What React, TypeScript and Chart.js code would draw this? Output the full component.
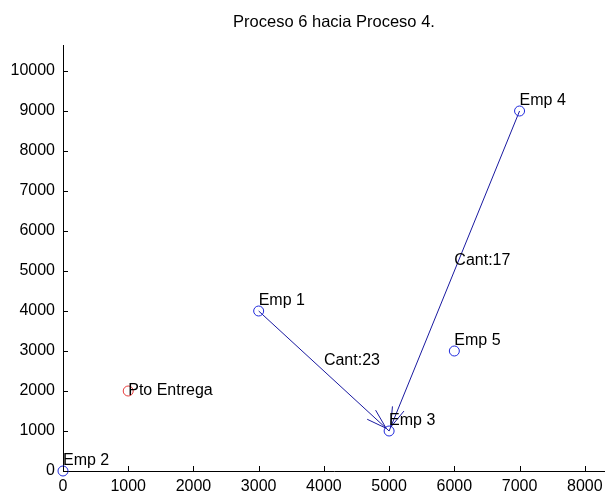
import React, { useEffect, useRef } from "react";
import { Chart, registerables } from "chart.js";

Chart.register(...registerables);

const TITLE = "Proceso 6 hacia Proceso 4.";
const empNames = ["Emp 1", "Emp 2", "Emp 3", "Emp 4", "Emp 5"];
const empX = [3000, 0, 5000, 7000, 6000];
const empY = [4000, 0, 1000, 9000, 3000];
const depotName = "Pto Entrega";
const depotX = [1000];
const depotY = [2000];
const routeFrom = [0, 3];
const routeTo = [2, 2];
const routeQty = [23, 17];
const xTicks = [0, 1000, 2000, 3000, 4000, 5000, 6000, 7000, 8000];
const yTicks = [0, 1000, 2000, 3000, 4000, 5000, 6000, 7000, 8000, 9000, 10000];
const X_MAX = 8310;
const Y_MAX = 10650;

const TICK_FONT = "'Liberation Sans', Arial, sans-serif";
const LABEL_FONT = "16px 'Liberation Sans', Arial, sans-serif";
const TITLE_FONT = "16.5px 'Liberation Sans', Arial, sans-serif";
const LINE_COLOR = "rgb(25,25,160)";
const MARKER_COLOR = "rgb(30,40,220)";
const DEPOT_COLOR = "rgb(230,60,60)";

const zeroPad = () => ({ left: 0, right: 0, top: 0, bottom: 0 });

const overlay = {
  id: "overlay",
  afterDatasetsDraw(chart: any) {
    const ctx = chart.ctx;
    const xs = chart.scales.x;
    const ys = chart.scales.y;
    const area = chart.chartArea;
    ctx.save();
    // inward ticks
    ctx.strokeStyle = "#000";
    ctx.lineWidth = 1;
    ctx.beginPath();
    xTicks.forEach((v) => {
      const px = Math.round(xs.getPixelForValue(v)) + 0.5;
      ctx.moveTo(px, area.bottom);
      ctx.lineTo(px, area.bottom - 5);
    });
    yTicks.forEach((v) => {
      const py = Math.round(ys.getPixelForValue(v)) + 0.5;
      ctx.moveTo(area.left, py);
      ctx.lineTo(area.left + 5, py);
    });
    ctx.stroke();

    // arrowheads
    ctx.strokeStyle = LINE_COLOR;
    routeFrom.forEach((f, i) => {
      const t = routeTo[i];
      const x1 = xs.getPixelForValue(empX[f]);
      const y1 = ys.getPixelForValue(empY[f]);
      const x2 = xs.getPixelForValue(empX[t]);
      const y2 = ys.getPixelForValue(empY[t]);
      const ang = Math.atan2(y1 - y2, x1 - x2);
      const len = 21;
      const spread = 0.3;
      const tx = x2 + 4 * Math.cos(ang);
      const ty = y2 + 4 * Math.sin(ang);
      ctx.beginPath();
      ctx.moveTo(tx + len * Math.cos(ang + spread), ty + len * Math.sin(ang + spread));
      ctx.lineTo(tx, ty);
      ctx.lineTo(tx + len * Math.cos(ang - spread), ty + len * Math.sin(ang - spread));
      ctx.stroke();
    });

    // text labels
    ctx.fillStyle = "#000";
    ctx.font = LABEL_FONT;
    ctx.textAlign = "left";
    ctx.textBaseline = "middle";
    empNames.forEach((n, i) => {
      ctx.fillText(n, xs.getPixelForValue(empX[i]), ys.getPixelForValue(empY[i]) - 10);
    });
    ctx.fillText(depotName, xs.getPixelForValue(depotX[0]), ys.getPixelForValue(depotY[0]));
    routeFrom.forEach((f, i) => {
      const t = routeTo[i];
      const mx = xs.getPixelForValue((empX[f] + empX[t]) / 2);
      const my = ys.getPixelForValue((empY[f] + empY[t]) / 2);
      ctx.fillText("Cant:" + routeQty[i], mx, my - 10);
    });

    // title
    ctx.font = TITLE_FONT;
    ctx.textAlign = "center";
    ctx.fillText(TITLE, 334, 22);
    ctx.restore();
  },
};

export default function App() {
  const ref = useRef<HTMLCanvasElement | null>(null);
  useEffect(() => {
    if (!ref.current) return;
    const routeSets = routeFrom.map((f, i) => ({
      type: "line" as const,
      data: [
        { x: empX[f], y: empY[f] },
        { x: empX[routeTo[i]], y: empY[routeTo[i]] },
      ],
      showLine: true,
      borderColor: LINE_COLOR,
      borderWidth: 1,
      pointRadius: 0,
      fill: false,
      clip: false as any,
    }));
    const chart = new Chart(ref.current, {
      type: "scatter",
      data: {
        datasets: [
          {
            data: empX.map((x, i) => ({ x, y: empY[i] })),
            pointStyle: "circle",
            pointRadius: 5,
            borderColor: MARKER_COLOR,
            backgroundColor: "rgba(0,0,0,0)",
            borderWidth: 1,
            clip: false as any,
          },
          {
            data: depotX.map((x, i) => ({ x, y: depotY[i] })),
            pointStyle: "circle",
            pointRadius: 5,
            borderColor: DEPOT_COLOR,
            backgroundColor: "rgba(0,0,0,0)",
            borderWidth: 1,
            clip: false as any,
          },
          ...(routeSets as any[]),
        ],
      },
      options: {
        responsive: false,
        animation: false,
        events: [],
        layout: { autoPadding: false, padding: { top: 45, right: 0, left: 0, bottom: 0 } },
        plugins: { legend: { display: false }, tooltip: { enabled: false }, title: { display: false } },
        scales: {
          x: {
            type: "linear",
            min: 0,
            max: X_MAX,
            grid: { display: false, drawTicks: false },
            border: { display: true, color: "#000", width: 1 },
            ticks: {
              autoSkip: false,
              maxRotation: 0,
              color: "#000",
              padding: 6,
              font: { family: TICK_FONT, size: 16 },
              callback: (v: any) => String(v),
            },
            afterBuildTicks: (s: any) => {
              s.ticks = xTicks.map((v) => ({ value: v }));
            },
            afterFit: (s: any) => {
              s.height = 24;
              s.paddingRight = 0;
              s.paddingLeft = 0;
              s.getPadding = zeroPad;
            },
          },
          y: {
            type: "linear",
            min: 0,
            max: Y_MAX,
            grid: { display: false, drawTicks: false },
            border: { display: true, color: "#000", width: 1 },
            ticks: {
              autoSkip: false,
              color: "#000",
              padding: 8,
              font: { family: TICK_FONT, size: 16 },
              callback: (v: any) => String(v),
            },
            afterBuildTicks: (s: any) => {
              s.ticks = yTicks.map((v) => ({ value: v }));
            },
            afterFit: (s: any) => {
              s.width = 63;
              s.paddingTop = 0;
              s.paddingBottom = 0;
              s.getPadding = zeroPad;
            },
          },
        },
      },
      plugins: [overlay],
    });
    return () => chart.destroy();
  }, []);
  return (
    <div style={{ position: "absolute", left: 0, top: 0, width: 605, height: 495, background: "#fff" }}>
      <canvas ref={ref} width={605} height={495} style={{ display: "block" }} />
    </div>
  );
}
